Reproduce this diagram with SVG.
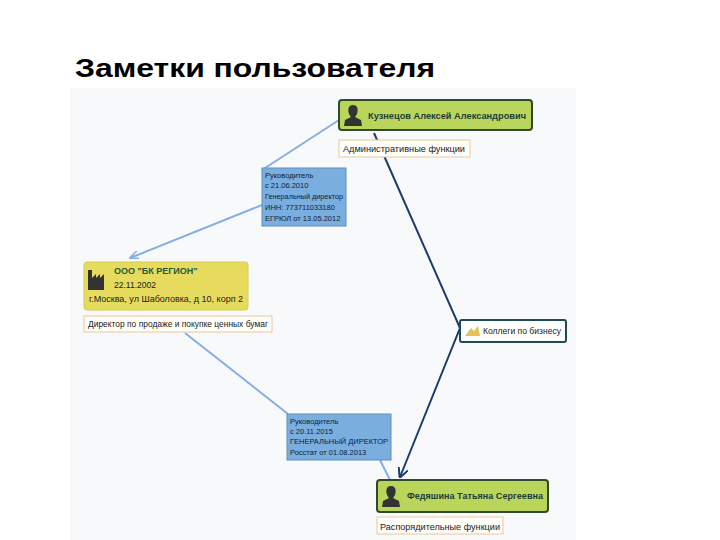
<svg xmlns="http://www.w3.org/2000/svg" width="720" height="540" viewBox="0 0 720 540">
<style>
text{font-family:"Liberation Sans",Arial,sans-serif}
.t{font-size:26px;font-weight:bold;fill:#000}
.person{fill:#b9d65a;stroke:#2f4a2a;stroke-width:2}
.nm{font-size:9.5px;font-weight:bold;fill:#1d3d3a}
.lbl{fill:#fffdf8;stroke:#e8c9a0;stroke-width:1}
.lt{font-size:8.5px;fill:#222}
.blue{fill:#7aaede;stroke:#5c8fc0;stroke-width:1}
.bt{font-size:7.5px;fill:#0e1e3a}
.blink{stroke:#86aee0;stroke-width:2;fill:none}
.dlink{stroke:#1c3d6a;stroke-width:2;fill:none}
</style>
<defs>
<marker id="ab" markerWidth="10" markerHeight="8" refX="9" refY="4" orient="auto" markerUnits="userSpaceOnUse"><path d="M0,0 L10,4 L0,8" fill="none" stroke="#86aee0" stroke-width="1.5"/></marker>
<marker id="ad" markerWidth="10" markerHeight="10" refX="9" refY="5" orient="auto" markerUnits="userSpaceOnUse"><path d="M0,0 L10,5 L0,10" fill="none" stroke="#1c3d6a" stroke-width="2"/></marker>
<symbol id="pers" viewBox="0 0 20 22"><path d="M10,1 C6,1 5,4 5.5,8 C6,10 7,12 8,13 L2,16 L1,22 L19,22 L18,16 L12,13 C13,12 14,10 14.5,8 C15,4 14,1 10,1Z" fill="#333"/></symbol>
</defs>
<rect width="720" height="540" fill="#fff"/>
<text class="t" x="75" y="77" textLength="360" lengthAdjust="spacingAndGlyphs">Заметки пользователя</text>
<rect x="70" y="88" width="506" height="452" fill="#f8f9fa"/>

<g id="connectors">
<path class="blink" d="M339,120 L262,170"/>
<path class="blink" d="M262,205 L130,258" marker-end="url(#ab)"/>
<path class="blink" d="M185,333 L288,414"/>
<path class="blink" d="M380,460 L390,480"/>
<path class="dlink" d="M374,133 L460,328 L400,477" marker-end="url(#ad)"/>
</g>

<g id="kuznetsov">
<rect class="person" x="339" y="100" width="193" height="30" rx="3"/>
<use href="#pers" x="343" y="104" width="20" height="22"/>
<text class="nm" x="368" y="119" textLength="158" lengthAdjust="spacingAndGlyphs">Кузнецов Алексей Александрович</text>
</g>
<g id="label-admin">
<rect class="lbl" x="339" y="140" width="131" height="17"/>
<text class="lt" x="343" y="152" textLength="122" lengthAdjust="spacingAndGlyphs">Административные функции</text>
</g>
<g id="note1">
<rect class="blue" x="262" y="168" width="84" height="58"/>
<text class="bt" x="265" y="178">Руководитель</text>
<text class="bt" x="265" y="188">с 21.06.2010</text>
<text class="bt" x="265" y="199" textLength="78" lengthAdjust="spacingAndGlyphs">Генеральный директор</text>
<text class="bt" x="265" y="210">ИНН: 773711033180</text>
<text class="bt" x="265" y="221">ЕГРЮЛ от 13.05.2012</text>
</g>
<g id="ooo">
<rect x="84" y="262" width="164" height="48" rx="3" fill="#e6db5c" stroke="#d8cc50"/>
<path d="M88,290 L88,270 L92,270 L92,278 L96,274 L96,278 L100,274 L100,278 L104,274 L104,290 Z" fill="#333"/>
<text x="114" y="274" style="font-size:9px;font-weight:bold;fill:#1f5a3a">ООО "БК РЕГИОН"</text>
<text class="lt" x="114" y="288">22.11.2002</text>
<text class="lt" x="89" y="302" textLength="154" lengthAdjust="spacingAndGlyphs">г.Москва, ул Шаболовка, д 10, корп 2</text>
</g>
<g id="label-director">
<rect class="lbl" x="84" y="316" width="188" height="16"/>
<text class="lt" x="88" y="327" textLength="180" lengthAdjust="spacingAndGlyphs">Директор по продаже и покупке ценных бумаг</text>
</g>
<g id="colleagues">
<rect x="460" y="320" width="106" height="22" rx="2" fill="#fff" stroke="#1d4a55" stroke-width="2"/>
<path d="M465,336 L471,328 L474,331 L478,326 L480,336 Z" fill="#e2c25a"/>
<text class="lt" x="483" y="334" textLength="78" lengthAdjust="spacingAndGlyphs">Коллеги по бизнесу</text>
</g>
<g id="note2">
<rect class="blue" x="287" y="414" width="104" height="46"/>
<text class="bt" x="290" y="424">Руководитель</text>
<text class="bt" x="290" y="434">с 20.11.2015</text>
<text class="bt" x="290" y="444" textLength="98" lengthAdjust="spacingAndGlyphs">ГЕНЕРАЛЬНЫЙ ДИРЕКТОР</text>
<text class="bt" x="290" y="455">Росстат от 01.08.2013</text>
</g>
<g id="fedyashina">
<rect class="person" x="377" y="480" width="171" height="32" rx="3"/>
<use href="#pers" x="381" y="485" width="20" height="22"/>
<text class="nm" x="407" y="499" textLength="136" lengthAdjust="spacingAndGlyphs">Федяшина Татьяна Сергеевна</text>
</g>
<g id="label-rasp">
<rect class="lbl" x="377" y="517" width="126" height="17"/>
<text class="lt" x="380" y="530" textLength="120" lengthAdjust="spacingAndGlyphs">Распорядительные функции</text>
</g>
</svg>
